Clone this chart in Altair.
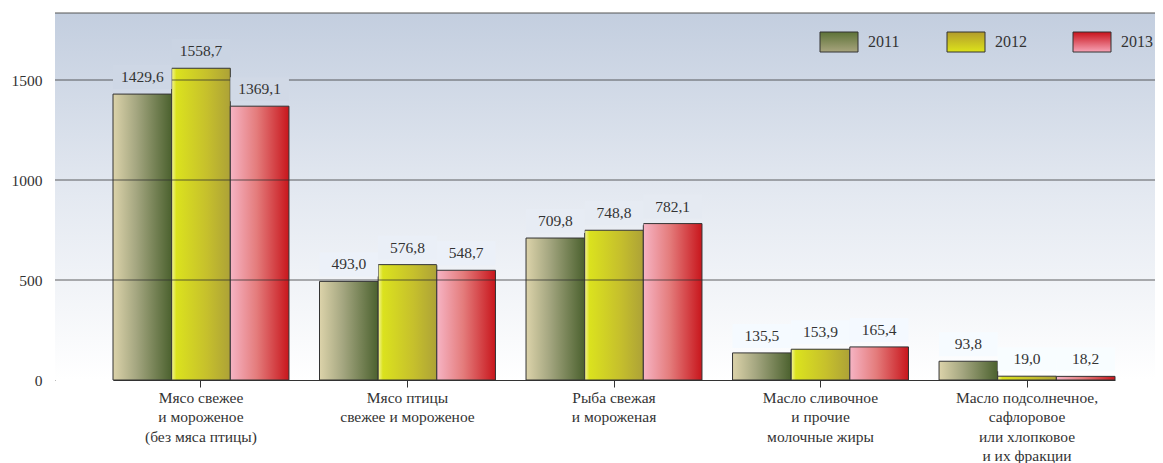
import altair as alt
import pandas as pd

categories = [
    "Мясо свежее\nи мороженое\n(без мяса птицы)",
    "Мясо птицы\nсвежее и мороженое",
    "Рыба свежая\nи мороженая",
    "Масло сливочное\nи прочие\nмолочные жиры",
    "Масло подсолнечное,\nсафлоровое\nили хлопковое\nи их фракции",
]
years = ["2011", "2012", "2013"]
v2011 = [1429.6, 493.0, 709.8, 135.5, 93.8]
v2012 = [1558.7, 576.8, 748.8, 153.9, 19.0]
v2013 = [1369.1, 548.7, 782.1, 165.4, 18.2]
y_ticks = [0, 500, 1000, 1500]
grid_values = [500, 1000, 1500]

W, H = 1100, 367
YMAX = 1835
FONT = "Liberation Serif, Times New Roman, serif"
TXT = "#333333"

rows = []
for yr, vals in zip(years, [v2011, v2012, v2013]):
    for c, v in zip(categories, vals):
        rows.append({"cat": c, "year": yr, "v": v})
df = pd.DataFrame(rows)

gradients = {
    "2011": [("#dcd3aa", 0.0), ("#a4a680", 0.4), ("#4b612e", 1.0)],
    "2012": [("#f4f49a", 0.0), ("#dbe21e", 0.08), ("#c6c02c", 0.6), ("#ada237", 1.0)],
    "2013": [("#f6b4c4", 0.0), ("#e47c7c", 0.45), ("#c8161c", 1.0)],
}
legend_grad = {
    "2011": [("#5d7238", 0.0), ("#a8a47e", 1.0)],
    "2012": [("#b29c2c", 0.0), ("#dde31a", 1.0)],
    "2013": [("#c8121a", 0.0), ("#f7a3b6", 1.0)],
}


def hgrad(stops):
    return alt.Gradient(
        gradient="linear", x1=0, y1=0, x2=1, y2=0,
        stops=[alt.GradientStop(color=c, offset=o) for c, o in stops],
    )


def vgrad(stops):
    return alt.Gradient(
        gradient="linear", x1=0, y1=0, x2=0, y2=1,
        stops=[alt.GradientStop(color=c, offset=o) for c, o in stops],
    )


x_enc = alt.X(
    "cat:N",
    sort=categories,
    scale=alt.Scale(range=[58, 1060], paddingInner=0.148, paddingOuter=0),
    axis=alt.Axis(
        title=None, labelAngle=0, labelExpr="split(datum.label, '\\n')",
        labelFont=FONT, labelFontSize=15.5, labelColor=TXT, labelLineHeight=19.5,
        labelPadding=3, tickSize=7, tickColor="#333", domainColor="#333",
        labelBaseline="top",
    ),
)
xo_enc = alt.XOffset("year:N", scale=alt.Scale(domain=years, paddingInner=0))


def y_enc(field="v"):
    return alt.Y(
        f"{field}:Q",
        scale=alt.Scale(domain=[0, YMAX], nice=False),
        axis=alt.Axis(
            title=None, values=y_ticks, format="d", grid=False, ticks=False, labelPadding=13,
            labelFont=FONT, labelFontSize=15.5, labelColor=TXT, domainColor="#777",
        ),
    )


one = pd.DataFrame({"a": [0]})

background = alt.Chart(one).mark_rect(
    color=vgrad([("#c3cedf", 0.0), ("#e4e9f1", 0.5), ("#ffffff", 1.0)])
).encode(x=alt.value(0), x2=alt.value(W), y=alt.value(0), y2=alt.value(H))

top_border = alt.Chart(one).mark_rule(color="#555", strokeWidth=1).encode(
    x=alt.value(0), x2=alt.value(W), y=alt.value(0)
)

bars = []
for yr in years:
    bars.append(
        alt.Chart(df).transform_filter(alt.datum.year == yr).mark_bar(
            color=hgrad(gradients[yr]), stroke="#333", strokeWidth=1
        ).encode(x=x_enc, xOffset=xo_enc, y=y_enc())
    )

grid = alt.Chart(pd.DataFrame({"g": grid_values})).mark_rule(
    color="#2e2e2e", strokeWidth=1, opacity=0.75
).encode(y=y_enc("g"), x=alt.value(0), x2=alt.value(W))

# label backing boxes (mask the grid lines behind the value labels, like the original)
px = YMAX / H
masks = alt.Chart(df).transform_calculate(
    lo=f"datum.v + {5 * px}", hi=f"datum.v + {29 * px}", mid=f"datum.v + {17 * px}"
).mark_bar(strokeWidth=0).encode(
    x=x_enc, xOffset=xo_enc, y=y_enc("lo"), y2="hi:Q",
    color=alt.Color(
        "mid:Q",
        scale=alt.Scale(domain=[0, YMAX / 2, YMAX], range=["#ffffff", "#e4e9f1", "#c3cedf"]),
        legend=None,
    ),
)

labels = alt.Chart(df).transform_calculate(
    lab="replace(format(datum.v, '.1f'), '.', ',')"
).mark_text(
    font=FONT, fontSize=15.5, dy=-17, baseline="middle", color=TXT
).encode(x=x_enc, xOffset=xo_enc, y=y_enc(), text="lab:N")

legend_x = {"2011": 765, "2012": 892, "2013": 1018}
legend_layers = []
for yr in years:
    lx = legend_x[yr]
    legend_layers.append(
        alt.Chart(one).mark_rect(color=vgrad(legend_grad[yr]), stroke="#333", strokeWidth=1).encode(
            x=alt.value(lx), x2=alt.value(lx + 38), y=alt.value(19), y2=alt.value(39)
        )
    )
    legend_layers.append(
        alt.Chart(pd.DataFrame({"t": [yr]})).mark_text(
            font=FONT, fontSize=16, color=TXT, align="left", baseline="middle"
        ).encode(x=alt.value(lx + 48), y=alt.value(29), text="t:N")
    )

chart = alt.layer(
    background, *bars, grid, masks, labels, top_border, *legend_layers
).properties(
    width=W, height=H,
    autosize=alt.AutoSizeParams(type="none"),
    padding={"left": 47, "top": 5, "right": 0, "bottom": 83},
).configure_view(stroke=None)

chart.save("out.html", embed_options={"renderer": "svg", "actions": False})
